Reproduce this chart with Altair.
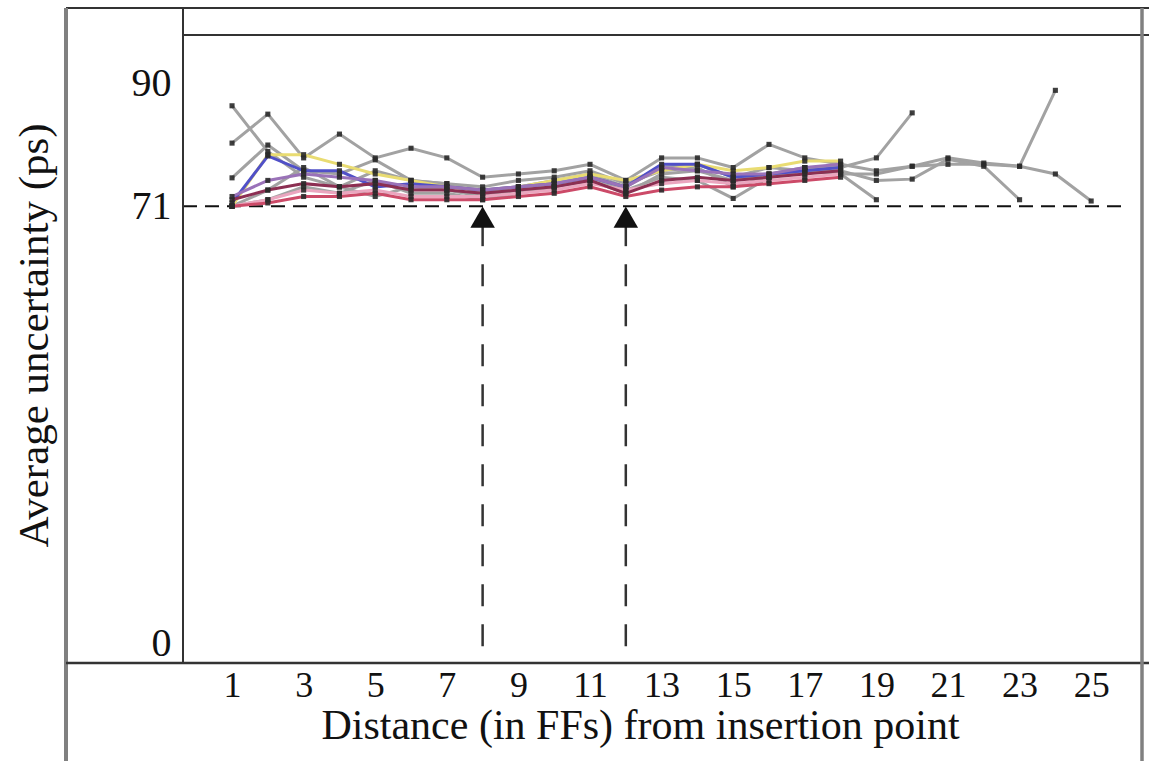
import altair as alt
import pandas as pd

# Average uncertainty (ps) per distance (in FFs) from the insertion point
grey_a = [86.6, 79.5, 75.5, 74.0, 76.5, 75.0, 74.5, 74.0, 75.0, 75.5, 76.5, 74.5, 76.5,
          77.0, 74.0, 75.5, 76.5, 76.0, 76.0, 77.2, 78.5, 77.7, 77.2, 76.0, 71.8]
grey_b = [80.8, 85.3, 78.5, 82.2, 78.5, 80.0, 78.5, 75.5, 76.0, 76.5, 77.5, 75.0, 78.5,
          78.5, 77.0, 80.6, 78.5, 77.5, 76.5, 77.2, 77.5, 77.5, 77.2, 89.0]
grey_c = [75.4, 80.5, 76.5, 76.0, 78.2, 75.0, 74.5, 73.0, 74.0, 75.0, 76.0, 74.0, 77.0,
          77.5, 75.5, 77.0, 76.5, 76.5, 75.0, 75.2, 78.3, 77.2, 72.0]
grey_d = [71.0, 73.5, 77.0, 74.0, 72.5, 74.0, 73.5, 72.5, 73.5, 74.0, 75.0, 73.0, 76.0,
          76.5, 75.0, 76.0, 77.0, 77.0, 78.5, 85.5]
grey_e = [71.0, 72.0, 74.0, 73.0, 75.0, 73.0, 73.0, 72.0, 73.0, 74.0, 75.5, 73.5, 75.5,
          75.0, 72.2, 75.5, 77.0, 76.0, 72.0]
blue = [71.5, 78.8, 76.5, 76.5, 74.0, 74.5, 74.0, 73.5, 74.0, 74.5, 75.5, 74.0, 77.5,
        77.5, 75.5, 76.0, 76.5, 77.0]
yellow = [71.0, 79.0, 79.0, 77.5, 76.0, 75.0, 74.0, 73.5, 74.0, 75.0, 76.0, 75.0, 76.5,
          77.5, 76.5, 77.0, 78.0, 78.0]
pink = [71.0, 72.0, 73.5, 73.0, 73.5, 72.5, 72.5, 72.5, 73.0, 73.5, 74.5, 73.5, 74.5,
        75.0, 74.5, 75.0, 75.5, 76.0]
red = [71.0, 71.5, 72.5, 72.5, 73.0, 72.0, 72.0, 72.0, 72.5, 73.0, 74.0, 72.5, 73.5,
       74.0, 74.0, 74.5, 75.0, 75.5]
maroon = [72.0, 73.5, 74.5, 74.0, 74.5, 73.5, 73.5, 73.0, 73.5, 74.0, 75.0, 73.0, 75.0,
          75.5, 75.0, 75.5, 76.0, 76.5]
purple = [72.5, 75.0, 76.0, 75.5, 75.0, 74.0, 74.0, 73.5, 74.0, 74.5, 75.5, 74.0, 77.0,
          76.5, 76.0, 76.0, 77.0, 77.5]

series = {
    "grey_a": grey_a, "grey_b": grey_b, "grey_c": grey_c, "grey_d": grey_d,
    "grey_e": grey_e, "yellow": yellow, "blue": blue, "purple": purple,
    "pink": pink, "maroon": maroon, "red": red,
}
series_colors = ["#a2a2a2", "#a2a2a2", "#a2a2a2", "#a2a2a2", "#a2a2a2",
                 "#e9dc72", "#5050c8", "#9a72b8", "#eba6bf", "#8c2f52", "#cc4a68"]

x_ticks = [1, 3, 5, 7, 9, 11, 13, 15, 17, 19, 21, 23, 25]
y_ticks = [0, 71, 90]
baseline = 71
marked_distances = [8, 12]

rows = []
for order, (name, vals) in enumerate(series.items()):
    for i, v in enumerate(vals):
        rows.append({"series": name, "order": order, "distance": i + 1, "uncertainty": v})
df = pd.DataFrame(rows)

W, H = 959, 628
X_DOM = [-0.37, 26.42]
Y_DOM = [0, 97.6]
FONT = "Liberation Serif"

xs = alt.Scale(domain=X_DOM, nice=False, zero=False)
ys = alt.Scale(domain=Y_DOM, nice=False, zero=False)

x_axis = alt.Axis(values=x_ticks, ticks=False, domain=False, grid=False,
                  labelFont=FONT, labelFontSize=36, labelColor="#111", labelPadding=5,
                  title="Distance (in FFs) from insertion point", titleFont=FONT,
                  titleFontSize=42, titleFontWeight="normal", titleColor="#111",
                  titleX=457, titleY=62, titleBaseline="middle")
y_axis = alt.Axis(values=y_ticks, ticks=False, domain=False, grid=False,
                  labelFont=FONT, labelFontSize=40, labelColor="#111", labelPadding=12,
                  labelFlush=True,
                  title="Average uncertainty (ps)", titleFont=FONT, titleFontSize=43,
                  titleFontWeight="normal", titleColor="#111",
                  titleX=-149, titleY=300, titleBaseline="middle", titleAlign="center")

color = alt.Color("series:N", scale=alt.Scale(domain=list(series.keys()), range=series_colors),
                  legend=None)

lines = alt.Chart(df).mark_line(strokeWidth=3, clip=True).encode(
    x=alt.X("distance:Q", scale=xs, axis=x_axis),
    y=alt.Y("uncertainty:Q", scale=ys, axis=y_axis),
    color=color,
    order=alt.Order("distance:Q"),
)
points = alt.Chart(df).mark_square(size=26, color="#2a2a2a", opacity=0.9).encode(
    x=alt.X("distance:Q", scale=xs),
    y=alt.Y("uncertainty:Q", scale=ys),
)

ref_df = pd.DataFrame({"x0": [X_DOM[0]], "x1": [26.05], "y": [baseline]})
ref_line = alt.Chart(ref_df).mark_rule(color="#111", strokeWidth=2, strokeDash=[14, 8]).encode(
    x=alt.X("x0:Q", scale=xs), x2="x1:Q", y=alt.Y("y:Q", scale=ys))

mark_df = pd.DataFrame({"distance": marked_distances, "top": [68.2] * 2, "bottom": [0] * 2,
                        "level": [baseline] * 2})
drops = alt.Chart(mark_df).mark_rule(color="#333", strokeWidth=2.5, strokeDash=[22, 18]).encode(
    x=alt.X("distance:Q", scale=xs), y=alt.Y("top:Q", scale=ys), y2="bottom:Q")
arrows = alt.Chart(mark_df).mark_point(shape="triangle-up", filled=True, size=600,
                                       color="#111", opacity=1, yOffset=11).encode(
    x=alt.X("distance:Q", scale=xs), y=alt.Y("level:Q", scale=ys))

# surrounding frame lines (pixel positions relative to the plot area)
def frame(x, x2, y, y2, color="#333", width=2):
    return alt.Chart(pd.DataFrame({"k": [0]})).mark_rule(color=color, strokeWidth=width).encode(
        x=alt.value(x), x2=alt.value(x2), y=alt.value(y), y2=alt.value(y2))

frames = [
    frame(-117, 966, -27, -27),
    frame(0, 966, 0, 0),
    frame(-117, -117, -27, 726, color="#808080", width=4),
    frame(0, 0, -27, 628),
    frame(-117, 966, 628, 628, width=2.5),
    frame(959, 959, -27, 726, color="#808080", width=3.5),
]

chart = alt.layer(
    ref_line, drops, lines, points, arrows, *frames
).properties(
    width=W, height=H,
    autosize=alt.AutoSizeParams(type="none"),
    padding={"left": 183, "top": 35, "right": 7, "bottom": 98},
    background="white",
).configure_view(stroke=None)

chart.save("out.html", embed_options={"renderer": "svg", "actions": False})
